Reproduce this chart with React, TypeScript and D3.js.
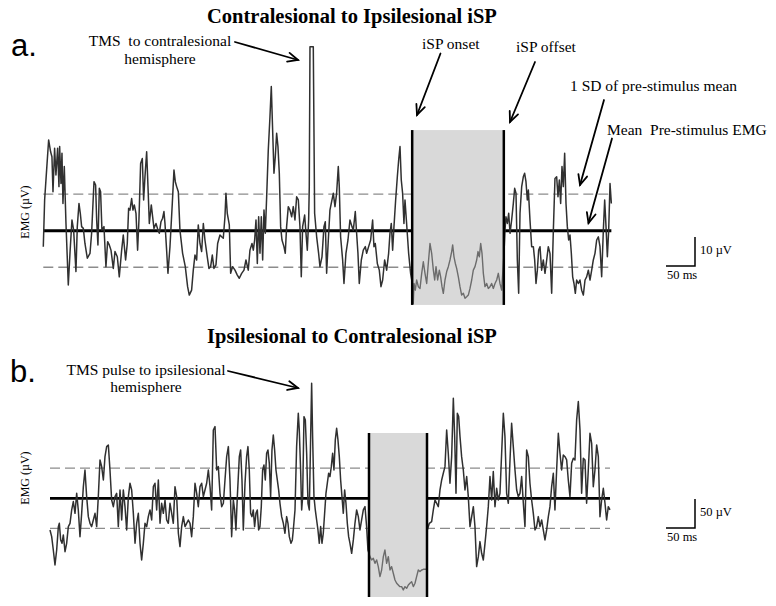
import React from 'react';
import * as d3 from 'd3';

// ---------- data (ms from trace start, µV relative to pre-stimulus mean) ----------
const TITLE_A = 'Contralesional to Ipsilesional iSP';
const TITLE_B = 'Ipsilesional to Contralesional iSP';

const traceA: [number, number][] = [
  [0,-5.5],[2.3,10.6],[5.7,20.9],[9.2,31.3],[12.6,27.2],[14.9,25.5],[16.7,13.4],[19.5,28.4],[21.8,19.2],[24.7,28.4],[27.0,15.2],[28.2,29.0],[30.5,16.3],[32.2,26.7],[33.9,9.4],[36.2,22.1],[39.1,2.5],[43.1,-18.7],[46.0,-7.8],[49.4,3.7],[52.3,0.2],[56.3,-14.1],[58.6,1.4],[61.5,9.4],[63.8,6.0],[66.1,1.4],[69.0,0.8],[71.8,-4.4],[75.9,-9.5],[80.5,-7.8],[83.3,-0.9],[87.4,16.9],[90.2,15.7],[92.0,3.7],[94.2,-4.9],[96.6,14.6],[98.8,13.4],[101.1,0.2],[104.6,1.4],[108.0,-12.4],[110.9,-3.8],[113.8,-4.9],[116.7,-6.7],[120.7,-13.0],[123.6,-7.2],[127.6,-9.0],[131.0,-15.9],[135.1,-6.7],[137.9,-1.5],[141.9,-10.1],[144.8,-4.4],[147.1,7.7],[149.4,7.1],[152.3,11.1],[154.6,7.1],[156.9,8.9],[159.8,6.0],[162.6,-6.7],[164.9,3.7],[167.8,23.2],[170.7,24.9],[173.0,10.6],[175.3,18.6],[178.2,27.2],[180.5,15.2],[182.8,2.5],[186.2,8.9],[188.5,4.8],[190.8,0.8],[194.3,2.5],[197.7,0.2],[200.0,-0.9],[202.9,3.1],[205.7,4.3],[208.0,6.6],[209.8,2.5],[212.6,-6.7],[214.9,-14.7],[218.4,-5.5],[222.4,9.4],[225.3,20.9],[227.6,16.9],[229.9,15.2],[232.8,13.4],[235.6,0.2],[240.2,-7.8],[244.8,-12.4],[248.8,-19.3],[251.7,-22.2],[255.7,-20.5],[258.6,-13.6],[261.5,-8.4],[264.4,-10.1],[267.2,2.0],[270.1,-4.4],[273.0,-7.2],[275.9,2.5],[278.7,-3.2],[282.7,-9.0],[285.6,-13.0],[288.5,-12.4],[291.4,-8.4],[294.2,-13.0],[297.7,-11.8],[300.6,-4.4],[304.6,-1.5],[307.5,-2.1],[310.3,-2.6],[313.2,4.8],[314.9,12.9],[317.2,6.0],[320.7,2.0],
  [323.0,-14.7],[326.4,-12.4],[330.5,-13.6],[334.5,-15.3],[337.9,-16.4],[342.0,-14.7],[346.0,-13.6],[349.4,-10.1],[353.4,-13.6],[356.3,-6.7],[359.8,-4.4],[362.1,-6.7],[364.4,-3.2],[366.7,3.7],[369.0,-11.3],[371.3,4.8],[373.6,-7.8],[375.9,4.8],[378.2,-10.1],[380.5,7.1],[382.8,-0.9],[385.1,11.7],[387.9,27.8],[390.8,39.3],[393.1,49.7],[395.4,34.7],[397.7,19.8],[400.0,25.5],[402.3,33.6],[404.6,29.0],[406.9,19.8],[409.2,1.4],[411.5,-3.2],[414.9,-5.5],[417.2,-7.8],[419.5,1.4],[422.4,8.3],[425.3,7.1],[428.2,4.8],[431.0,8.3],[433.9,3.7],[436.8,11.7],[439.7,10.6],[442.5,1.4],[444.8,-15.9],[447.1,1.4],[450.6,5.4],[452.9,-0.9],[455.2,-6.7],[457.5,3.7],[458.6,15.2],[459.8,63.4],[465.5,63.4],[467.8,6.0],[471.3,-2.1],[474.7,-7.8],[477.0,-12.4],[480.5,-9.0],[483.9,1.4],[486.2,3.1],[488.5,-14.7],[491.4,-3.2],[494.2,7.1],[496.5,9.4],[500.0,12.9],[502.9,8.3],[505.7,12.9],[508.6,22.1],[510.3,15.2],[512.6,-2.1],[516.1,-10.1],[518.4,-18.2],[521.8,-7.8],[525.3,-3.2],[528.7,3.7],[532.2,1.4],[534.5,0.2],[537.9,6.6],[540.2,-0.9],[542.5,-7.8],[544.8,-18.2],[548.3,-10.1],[551.7,-6.7],[555.2,-5.5],[557.5,-7.8],[560.9,-5.5],[564.4,-3.2],[567.8,3.7],[570.1,-5.5],[572.4,-4.4],[575.9,-11.3],[579.3,-13.6],[582.2,-19.3],[585.1,-17.0],[588.5,-10.1],[592.0,-13.6],[595.4,-7.8],[597.7,-0.9],[600.0,2.5],[602.3,-6.7],[604.6,1.4],[607.5,10.6],[610.4,18.6],[612.7,24.4],[615.0,29.0],[617.2,17.5],[619.5,12.9],[621.8,2.5],[623.6,10.6],[626.4,2.5],[629.9,-7.8],[633.3,-14.7],[636.2,-18.2],[637.9,-25.1],
  [639.1,-18.2],[641.4,-20.5],[643.7,-17.0],[646.6,-19.3],[649.5,-19.9],[652.4,-14.7],[655.2,-10.7],[658.1,-14.7],[661.0,-18.2],[663.8,-11.3],[666.7,-4.4],[669.6,-7.8],[672.5,-13.6],[674.8,-17.0],[677.1,-12.4],[679.9,-17.0],[682.8,-13.6],[685.1,-15.9],[687.4,-19.3],[689.7,-21.6],[692.6,-17.0],[695.5,-14.1],[698.3,-12.4],[701.2,-10.1],[704.1,-7.2],[705.8,-4.9],[708.1,-9.0],[710.4,-11.3],[712.7,-13.0],[715.6,-15.9],[718.4,-19.3],[721.3,-22.2],[724.2,-21.6],[727.1,-23.3],[729.9,-22.8],[732.8,-22.2],[735.7,-19.9],[738.6,-17.0],[741.4,-13.6],[744.3,-12.4],[747.2,-10.1],[749.5,-7.2],[751.8,-9.0],[754.1,-4.4],[756.4,-7.8],[758.7,-14.7],[761.5,-19.3],[764.4,-18.2],[767.3,-19.9],[770.2,-19.3],[773.0,-18.2],[775.9,-19.9],[778.8,-18.2],[781.7,-17.0],[784.5,-14.7],[787.4,-18.2],[790.3,-20.5],[794.3,-7.8],[796.0,0.2],[797.7,4.8],[800.1,2.5],[802.4,6.0],[804.7,-0.9],[807.5,3.7],[810.4,9.4],[812.7,14.6],[815.0,12.9],[817.3,-10.1],[819.6,-21.6],[821.9,6.0],[824.8,15.2],[827.6,18.6],[829.9,19.8],[832.2,16.9],[834.5,10.6],[836.3,14.0],[839.1,3.7],[842.0,-5.5],[844.9,-5.5],[847.2,-10.1],[849.5,-18.2],[851.8,-13.6],[854.1,-6.7],[856.4,-5.5],[859.2,-13.6],[862.1,-10.1],[865.0,-14.7],[867.9,-10.1],[870.7,-5.5],[873.6,-7.8],[876.5,-21.6],[879.4,0.2],[882.2,18.0],[885.1,18.6],[887.4,11.7],[889.7,17.5],[892.0,9.4],[894.3,22.1],[896.6,15.2],[898.9,26.7],[901.2,9.4],[903.5,1.4],[905.8,-3.2],[908.1,-1.5],[910.4,-7.8],[912.7,-15.9],[915.0,-18.2],[917.3,-21.6],[919.6,-17.0],[922.5,-18.2],[925.3,-17.0],[928.2,-20.5],[931.1,-22.2],[934.0,-17.0],[936.8,-15.9],[939.7,-13.6],[942.6,-17.0],[945.5,-13.6],[948.3,-10.1],[951.2,-7.8],[954.1,-3.2],[957.0,-2.1],[959.8,-5.5],[962.7,-15.9],[965.6,0.2],[967.9,10.6],[970.2,1.4],[972.5,-9.0],[974.8,0.2],[977.1,16.3],[979.4,9.4],
];

const traceB: [number, number][] = [
  [0,-54.6],[2.9,-66.1],[5.7,-89.1],[8.6,-114.9],[11.5,-89.1],[14.4,-48.8],[16.1,-43.1],[18.4,-71.8],[20.7,-77.6],[23.0,-63.2],[25.9,-92.0],[28.7,-77.6],[31.6,-48.8],[34.5,-43.1],[37.4,-20.1],[40.2,-5.7],[43.1,-25.9],[46.0,8.6],[48.8,-20.1],[51.7,-66.1],[54.6,-25.9],[57.5,20.1],[60.3,48.8],[63.2,2.9],[66.1,-31.6],[69.0,-43.1],[71.8,-48.8],[74.7,-37.4],[77.6,-25.9],[80.5,-48.8],[83.3,2.9],[86.2,66.1],[89.1,54.6],[92.0,31.6],[94.8,71.8],[97.7,89.1],[100.6,92.0],[103.4,48.8],[106.3,-2.9],[109.2,-14.4],[112.1,2.9],[114.9,8.6],[117.8,-48.8],[120.7,14.4],[123.6,-37.4],[126.4,14.4],[129.3,-14.4],[132.2,-54.6],[135.1,2.9],[137.9,25.9],[140.8,14.4],[143.7,-25.9],[146.6,-77.6],[149.4,-43.1],[152.3,-25.9],[155.2,-77.6],[158.0,-106.3],[160.9,-77.6],[163.8,-43.1],[166.7,-48.8],[169.5,-31.6],[172.4,-20.1],[175.3,-37.4],[178.2,20.1],[181.0,25.9],[183.9,-20.1],[186.8,31.6],[189.7,-43.1],[192.5,-8.6],[195.4,-25.9],[198.3,-2.9],[201.1,-37.4],[204.0,-43.1],[206.9,-8.6],[209.8,-25.9],[212.6,-43.1],[215.5,20.1],[218.4,2.9],[221.3,-60.3],[224.1,-83.3],[227.0,-48.8],[229.9,-31.6],[232.8,-48.8],[235.6,-43.1],[238.5,-37.4],[241.4,-43.1],[244.2,-66.1],[247.1,-31.6],[250.0,25.9],[252.9,8.6],[255.7,-14.4],[258.6,20.1],[261.5,25.9],[264.4,2.9],[267.2,14.4],[270.1,25.9],[273.0,48.8],[275.9,20.1],[278.7,-20.1],[281.6,117.8],[284.5,123.6],[287.4,48.8],[290.2,54.6],[293.1,8.6],[296.0,-14.4],[298.9,-8.6],[301.7,31.6],[304.6,71.8],[307.5,89.1],[310.3,31.6],[313.2,-66.1],[316.1,-2.9],
  [318.3,-20.1],[320.6,-54.6],[323.0,2.9],[326.4,71.8],[328.7,83.3],[331.0,31.6],[333.3,-54.6],[336.2,25.9],[339.0,71.8],[341.3,89.1],[343.6,48.8],[345.9,-25.9],[348.2,-31.6],[350.5,-20.1],[352.8,-48.8],[355.1,-25.9],[357.4,-20.1],[359.7,-54.6],[362.0,-48.8],[364.3,-14.4],[366.6,48.8],[368.9,57.5],[371.2,31.6],[373.5,77.6],[375.8,83.3],[378.1,60.3],[380.4,2.9],[382.7,83.3],[385.0,109.2],[387.3,83.3],[389.6,48.8],[391.9,31.6],[394.2,14.4],[396.5,-8.6],[399.4,-31.6],[402.3,-43.1],[405.1,-60.3],[408.0,-31.6],[410.3,-43.1],[412.6,-66.1],[415.5,-77.6],[417.8,-71.8],[419.5,-54.6],[422.4,-20.1],[425.2,89.1],[428.1,146.5],[429.8,117.8],[432.1,48.8],[433.9,-20.1],[435.6,2.9],[437.9,140.8],[440.2,135.1],[442.5,77.6],[444.8,-8.6],[447.1,-20.1],[449.4,106.3],[451.1,198.3],[452.8,106.3],[455.1,2.9],[457.4,-20.1],[459.7,-37.4],[462.0,-54.6],[464.3,-77.6],[466.6,-48.8],[468.9,-77.6],[471.2,-60.3],[473.5,-25.9],[475.8,8.6],[478.1,25.9],[480.4,43.1],[482.7,37.4],[485.0,54.6],[487.3,77.6],[489.6,48.8],[491.9,100.6],[494.2,120.7],[496.5,100.6],[498.8,71.8],[501.1,31.6],[503.4,2.9],[505.7,-25.9],[508.0,14.4],[510.3,-8.6],[512.6,-43.1],[514.9,-66.1],[517.2,-77.6],[520.1,-94.8],[523.0,-71.8],[525.8,-43.1],[528.7,-20.1],[531.6,-31.6],[534.4,-54.6],[537.3,-37.4],[540.2,-20.1],[543.1,-14.4],[545.9,-48.8],[548.2,-89.1],[551.7,-100.6],[554.5,-106.3],[557.4,-103.4],[560.3,-112.1],[563.2,-106.3],[566.0,-117.8],[568.9,-135.1],[571.8,-123.6],[574.7,-100.6],[577.5,-89.1],[580.4,-112.1],[583.3,-100.6],[586.2,-123.6],[589.0,-117.8],[591.9,-129.3],[594.8,-140.8],[597.7,-146.5],[600.5,-149.4],[603.4,-152.3],[606.3,-152.3],[609.1,-158.0],[612.0,-152.3],[614.9,-155.2],[617.8,-149.4],[620.6,-146.5],[623.5,-143.7],[626.4,-152.3],[629.3,-146.5],[632.1,-135.1],[635.0,-123.6],[637.9,-126.4],[640.8,-123.6],[643.6,-122.4],[649.4,-122.4],
  [650.5,-54.6],[654.0,-43.1],[658.0,-40.2],[660.9,-20.1],[663.8,-2.9],[666.6,-8.6],[669.5,-14.4],[672.4,14.4],[675.3,31.6],[678.1,43.1],[681.0,54.6],[683.9,117.8],[686.7,77.6],[689.6,25.9],[692.5,71.8],[695.4,172.4],[697.7,106.3],[700.0,8.6],[702.3,146.5],[704.6,140.8],[706.9,106.3],[709.7,71.8],[712.6,48.8],[715.5,14.4],[718.4,37.4],[721.2,2.9],[724.1,-48.8],[727.0,-31.6],[729.9,-14.4],[732.7,-48.8],[735.6,-117.8],[738.5,-100.6],[741.3,-74.7],[744.2,-94.8],[747.1,-106.3],[750.0,-77.6],[752.8,-48.8],[755.7,-14.4],[758.6,37.4],[761.5,-2.9],[764.3,46.0],[767.2,-14.4],[770.1,17.2],[772.9,-2.9],[775.8,8.6],[778.7,77.6],[781.6,146.5],[784.4,106.3],[787.3,8.6],[790.2,-8.6],[793.1,66.1],[795.9,129.3],[798.8,89.1],[801.7,48.8],[804.6,14.4],[807.4,2.9],[810.3,8.6],[813.2,37.4],[816.1,-8.6],[818.9,-48.8],[821.8,83.3],[824.7,71.8],[827.5,25.9],[830.4,-2.9],[833.3,-25.9],[836.2,-54.6],[839.0,-48.8],[841.9,-31.6],[844.8,-48.8],[847.7,-37.4],[850.5,-54.6],[853.4,-71.8],[856.3,-54.6],[859.2,-31.6],[862.0,-14.4],[864.9,20.1],[867.8,43.1],[870.6,-20.1],[873.5,48.8],[876.4,112.1],[879.3,77.6],[882.1,48.8],[885.0,74.7],[887.9,71.8],[890.8,66.1],[893.6,31.6],[896.5,2.9],[899.4,60.3],[902.3,69.0],[905.1,66.1],[908.0,135.1],[910.9,166.7],[913.8,117.8],[916.6,8.6],[919.5,69.0],[922.4,66.1],[925.2,-8.6],[928.1,48.8],[931.0,112.1],[933.9,94.8],[936.7,20.1],[939.6,48.8],[942.5,92.0],[945.4,71.8],[948.2,-31.6],[951.1,-2.9],[954.0,17.2],[956.9,-8.6],[959.7,-37.4],[962.6,-14.4],[965.5,-20.1],
];

// iSP windows (ms) and shaded box vertical extent (µV)
const ispA = { onset: 636, offset: 794, low: -25.6, high: 34.7 };
const ispB = { onset: 550, offset: 650, low: -170.2, high: 112.6 };
// 1 SD of pre-stimulus mean (µV)
const sdA = 12.6;
const sdB = 52;
// scale bars
const barA = { ms: 50, uv: 10, label: '10 µV' };
const barB = { ms: 50, uv: 50, label: '50 µV' };

// ---------- layout ----------
const W = 776;
const H = 606;
const SERIF = "'Liberation Serif', 'Times New Roman', serif";
const SANS = "'Liberation Sans', Arial, sans-serif";

// 50 ms = 29 px ; 10 µV = 29 px (a) ; 50 µV = 29 px (b)
const xA = d3.scaleLinear().domain([0, 1000]).range([43.3, 623.3]);
const yA = d3.scaleLinear().domain([0, 10]).range([230.7, 201.7]);
const xB = d3.scaleLinear().domain([0, 1000]).range([50, 630]);
const yB = d3.scaleLinear().domain([0, 50]).range([498.3, 469.3]);

type Scale = d3.ScaleLinear<number, number>;

function Panel({ id, trace, x, y, sd, isp, meanW }: {
  id: string; trace: [number, number][]; x: Scale; y: Scale; sd: number;
  isp: { onset: number; offset: number; low: number; high: number }; meanW: number;
}) {
  const line = d3.line<[number, number]>().x(d => x(d[0])).y(d => y(d[1]));
  const d = line(trace) || '';
  const t0 = trace[0][0];
  const t1 = trace[trace.length - 1][0];
  const bx0 = x(isp.onset);
  const bx1 = x(isp.offset);
  const by0 = y(isp.high);
  const by1 = y(isp.low);
  return (
    <g>
      <defs>
        <clipPath id={id}>
          <rect x={bx0} y={by0} width={bx1 - bx0} height={by1 - by0} />
        </clipPath>
      </defs>
      {[sd, -sd].map((v, i) => (
        <line key={i} x1={x(t0)} x2={x(t1)} y1={y(v)} y2={y(v)}
          stroke="#8c8c8c" strokeWidth={1.3} strokeDasharray="10,5" />
      ))}
      <line x1={x(t0)} x2={x(t1)} y1={y(0)} y2={y(0)} stroke="#000" strokeWidth={meanW} />
      <path d={d} fill="none" stroke="#303030" strokeWidth={1.5} strokeLinejoin="round" />
      <rect x={bx0} y={by0} width={bx1 - bx0} height={by1 - by0} fill="#d9d9d9" />
      <path d={d} fill="none" stroke="#6c6c6c" strokeWidth={1.4} strokeLinejoin="round"
        clipPath={`url(#${id})`} />
      <line x1={bx0} x2={bx0} y1={by0} y2={by1} stroke="#000" strokeWidth={2.5} />
      <line x1={bx1} x2={bx1} y1={by0} y2={by1} stroke="#000" strokeWidth={2.5} />
    </g>
  );
}

function Arrow({ x1, y1, x2, y2 }: { x1: number; y1: number; x2: number; y2: number }) {
  const a = Math.atan2(y2 - y1, x2 - x1);
  const L = 11;
  const s = 0.42;
  const p1 = [x2 - L * Math.cos(a - s), y2 - L * Math.sin(a - s)];
  const p2 = [x2 - L * Math.cos(a + s), y2 - L * Math.sin(a + s)];
  return (
    <g stroke="#000" strokeWidth={1.8} fill="none" strokeLinecap="round" strokeLinejoin="miter">
      <line x1={x1} y1={y1} x2={x2} y2={y2} />
      <polyline points={`${p1[0]},${p1[1]} ${x2},${y2} ${p2[0]},${p2[1]}`} />
    </g>
  );
}

function ScaleBar({ x, y, cx, cy, bar, uvLabelY, msLabelY }: {
  x: Scale; y: Scale; cx: number; cy: number; bar: { ms: number; uv: number; label: string };
  uvLabelY: number; msLabelY: number;
}) {
  const w = x(bar.ms) - x(0);
  const h = y(0) - y(bar.uv);
  return (
    <g>
      <path d={`M${cx - w},${cy}H${cx}V${cy - h}`} fill="none" stroke="#000" strokeWidth={1.5} />
      <text x={cx + 5} y={uvLabelY} fontFamily={SERIF} fontSize={12.5}>{bar.label}</text>
      <text x={cx - w + 1} y={msLabelY} fontFamily={SERIF} fontSize={12.5}>50 ms</text>
    </g>
  );
}

export default function App() {
  const ann = { fontFamily: SERIF, fontSize: 15.5, style: { whiteSpace: 'pre' as const } };
  return (
    <svg width={W} height={H} viewBox={`0 0 ${W} ${H}`}
      style={{ position: 'absolute', left: 0, top: 0, background: '#fff' }}>
      <rect x={0} y={0} width={W} height={H} fill="#fff" />

      {/* ---------- panel a ---------- */}
      <text x={207} y={22.5} fontFamily={SERIF} fontSize={20.5} fontWeight="bold">{TITLE_A}</text>
      <text x={11} y={56} fontFamily={SANS} fontSize={31}>a.</text>
      <text {...ann} x={160} y={46} textAnchor="middle">TMS  to contralesional</text>
      <text {...ann} x={160} y={63.5} textAnchor="middle">hemisphere</text>
      <text {...ann} x={422} y={49}>iSP onset</text>
      <text {...ann} x={516} y={52}>iSP offset</text>
      <text {...ann} x={570} y={90.5}>1 SD of pre-stimulus mean</text>
      <text {...ann} x={607} y={135}>Mean  Pre-stimulus EMG</text>
      <text fontFamily={SERIF} fontSize={12} textAnchor="middle"
        transform="translate(29,212) rotate(-90)">EMG (µV)</text>

      <Panel id="clipA" trace={traceA} x={xA} y={yA} sd={sdA} isp={ispA} meanW={3} />

      <Arrow x1={235} y1={42} x2={298} y2={60} />
      <Arrow x1={440.5} y1={53.5} x2={417} y2={115} />
      <Arrow x1={535} y1={62} x2={510} y2={122} />
      <Arrow x1={604} y1={100} x2={580} y2={185} />
      <Arrow x1={612} y1={138.5} x2={588.5} y2={223} />

      <ScaleBar x={xA} y={yA} cx={695} cy={266} bar={barA} uvLabelY={254} msLabelY={279} />

      {/* ---------- panel b ---------- */}
      <text x={207} y={343} fontFamily={SERIF} fontSize={20.5} fontWeight="bold">{TITLE_B}</text>
      <text x={10} y={382} fontFamily={SANS} fontSize={31}>b.</text>
      <text {...ann} x={146} y={375} textAnchor="middle">TMS pulse to ipsilesional</text>
      <text {...ann} x={146} y={391.5} textAnchor="middle">hemisphere</text>
      <text fontFamily={SERIF} fontSize={12} textAnchor="middle"
        transform="translate(29,478) rotate(-90)">EMG (µV)</text>

      <Panel id="clipB" trace={traceB} x={xB} y={yB} sd={sdB} isp={ispB} meanW={2.8} />

      <Arrow x1={228} y1={371} x2={298} y2={388} />

      <ScaleBar x={xB} y={yB} cx={695} cy={528} bar={barB} uvLabelY={516} msLabelY={541} />
    </svg>
  );
}
